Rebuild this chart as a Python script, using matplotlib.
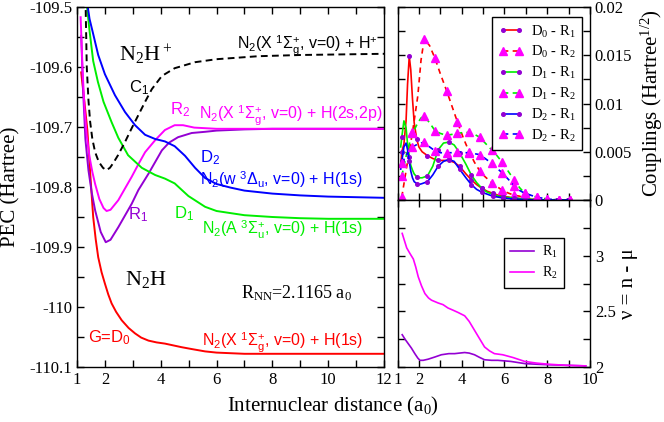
import numpy as np
import matplotlib
matplotlib.use("Agg")
import matplotlib.pyplot as plt
from matplotlib.ticker import FixedLocator, FixedFormatter

plt.rcParams['font.family'] = ['Liberation Serif', 'DejaVu Serif']
plt.rcParams['mathtext.fontset'] = 'custom'
plt.rcParams['mathtext.rm'] = 'Liberation Serif'
plt.rcParams['mathtext.it'] = 'Liberation Serif:italic'
plt.rcParams['mathtext.bf'] = 'Liberation Serif:bold'
plt.rcParams['mathtext.sf'] = 'Liberation Sans'

RED, GREEN, BLUE, MAG, PUR = '#ff0000', '#00ee00', '#0000ff', '#ff00ff', '#9400d3'

# ---------------- PEC data (left panel) ----------------
x_G = [1.15, 1.27, 1.37, 1.47, 1.58, 1.67, 1.76, 1.88, 2.0, 2.12, 2.24, 2.4, 2.6, 2.85,
       3.08, 3.3, 3.56, 3.85, 4.15, 4.45, 4.75, 5.1, 5.59, 6.0, 7.0, 8.0, 9.0, 10.0, 11.0, 12.0]
y_G = [-109.609, -109.66, -109.705, -109.775, -109.85, -109.887, -109.917, -109.942, -109.961,
       -109.979, -109.994, -110.008, -110.022, -110.035, -110.044, -110.051, -110.056, -110.059,
       -110.061, -110.064, -110.067, -110.070, -110.074, -110.076, -110.078, -110.078, -110.078,
       -110.078, -110.078, -110.078]

x_R1 = [1.15, 1.22, 1.30, 1.41, 1.53, 1.65, 1.85, 2.03, 2.2, 2.48, 2.96, 3.2, 3.56, 4.04,
        4.3, 4.62, 5.11, 5.59, 6.0, 7.0, 8.0, 9.0, 10.0, 11.0, 12.0]
y_R1 = [-109.548, -109.64, -109.72, -109.772, -109.81, -109.839, -109.875, -109.892, -109.888,
        -109.867, -109.828, -109.805, -109.778, -109.739, -109.726, -109.717, -109.71, -109.708,
        -109.706, -109.704, -109.703, -109.703, -109.703, -109.703, -109.703]

x_R2 = [1.13, 1.2, 1.27, 1.35, 1.45, 1.55, 1.65, 1.8, 1.95, 2.06, 2.2, 2.48, 2.75, 2.96, 3.2,
        3.44, 3.8, 4.15, 4.5, 4.8, 5.2, 6.0, 7.0, 8.0, 9.0, 10.0, 11.0, 12.0]
y_R2 = [-109.517, -109.605, -109.67, -109.715, -109.75, -109.775, -109.795, -109.82, -109.835,
        -109.84, -109.838, -109.822, -109.80, -109.783, -109.762, -109.742, -109.722, -109.705,
        -109.697, -109.697, -109.701, -109.703, -109.703, -109.703, -109.703, -109.703,
        -109.703, -109.703]

x_D1 = [1.3, 1.36, 1.45, 1.58, 1.75, 1.95, 2.24, 2.48, 2.83, 3.32, 3.8, 4.15, 4.5, 4.99, 5.59,
        6.0, 7.0, 8.0, 9.0, 10.0, 12.0]
y_D1 = [-109.45, -109.50, -109.54, -109.59, -109.625, -109.658, -109.692, -109.718, -109.747,
        -109.768, -109.78, -109.786, -109.794, -109.815, -109.833, -109.84, -109.847, -109.85,
        -109.852, -109.853, -109.853]

x_D2 = [1.32, 1.37, 1.45, 1.58, 1.76, 2.0, 2.36, 2.72, 3.08, 3.44, 3.8, 4.15, 4.5, 4.87, 5.23,
        5.59, 6.0, 6.5, 7.0, 8.0, 9.0, 10.0, 12.0]
y_D2 = [-109.45, -109.495, -109.52, -109.545, -109.58, -109.612, -109.647, -109.675, -109.697,
        -109.713, -109.72, -109.724, -109.732, -109.748, -109.768, -109.785, -109.795, -109.801,
        -109.806, -109.811, -109.814, -109.816, -109.818]

x_C1 = [1.27, 1.31, 1.35, 1.41, 1.47, 1.55, 1.65, 1.78, 1.93, 2.05, 2.18, 2.3, 2.47, 2.72,
        2.96, 3.2, 3.44, 3.68, 4.04, 4.5, 5.23, 6.0, 6.6, 7.5, 9.0, 10.5, 12.0]
y_C1 = [-109.46, -109.50, -109.60, -109.655, -109.691, -109.72, -109.742, -109.758, -109.768,
        -109.772, -109.768, -109.76, -109.747, -109.725, -109.702, -109.68, -109.658, -109.637,
        -109.615, -109.602, -109.592, -109.587, -109.585, -109.582, -109.58, -109.579, -109.578]

# ---------------- Couplings data (top-right panel) ----------------
xc_R1 = [1.15, 1.2, 1.3, 1.4, 1.47, 1.55, 1.62, 1.7, 1.78, 1.9, 2.0, 2.15, 2.4, 2.65, 2.9,
         3.15, 3.4, 3.65, 3.9, 4.2, 4.45, 4.7, 4.95, 5.2, 5.45, 5.7, 5.95, 6.45, 6.95, 7.45,
         7.95, 8.45, 8.95]
c_D0R1 = [0.0035, 0.0050, 0.0058, 0.0082, 0.0120, 0.0149, 0.0135, 0.0105, 0.0080, 0.0063,
          0.0055, 0.0050, 0.0046, 0.0043, 0.0041, 0.0041, 0.0041, 0.0039, 0.0035, 0.0027,
          0.0021, 0.0016, 0.0012, 0.0009, 0.0007, 0.0005, 0.0004, 0.0002, 0.0001, 0.00005,
          0.0, 0.0, 0.0]
c_D1R1 = [0.0055, 0.0065, 0.0082, 0.0075, 0.0058, 0.0045, 0.0036, 0.0031, 0.0027, 0.0024,
          0.0023, 0.0023, 0.0025, 0.0035, 0.0052, 0.0059, 0.0060, 0.0057, 0.0049, 0.0037,
          0.0026, 0.0018, 0.0012, 0.0008, 0.0006, 0.0004, 0.0003, 0.0002, 0.0001, 0.00005,
          0.0, 0.0, 0.0]
c_D2R1 = [0.0032, 0.0040, 0.0055, 0.0059, 0.0052, 0.0040, 0.0030, 0.0023, 0.0019, 0.0017,
          0.0016, 0.0017, 0.0019, 0.0026, 0.0035, 0.0040, 0.0042, 0.0040, 0.0032, 0.0023,
          0.0016, 0.0011, 0.0008, 0.0006, 0.0004, 0.0003, 0.0002, 0.0001, 0.00005, 0.0,
          0.0, 0.0, 0.0]
mk_R1 = [1.2, 1.55, 1.9, 2.4, 2.9, 3.4, 3.9, 4.45, 4.95, 5.45, 5.95, 6.45, 6.95, 7.45, 7.95,
         8.45, 8.95]

xc_R2 = [1.2, 1.45, 1.7, 1.95, 2.1, 2.25, 2.5, 2.75, 3.0, 3.3, 3.55, 3.8, 4.1, 4.35, 4.6,
         4.85, 5.1, 5.4, 5.65, 5.9, 6.2, 6.45, 6.7, 6.95, 7.5, 8.0, 8.55, 9.05]
c_D0R2 = [0.0003, 0.0037, 0.0070, 0.0108, 0.0145, 0.0167, 0.0160, 0.0147, 0.0131, 0.0113,
          0.0097, 0.0081, 0.0063, 0.0050, 0.0039, 0.0030, 0.0024, 0.0018, 0.0014, 0.0010,
          0.0007, 0.0005, 0.0004, 0.0002, 0.0001, 0.00005, 0.0, 0.0]
c_D1R2 = [0.0025, 0.0050, 0.0069, 0.0080, 0.0085, 0.0087, 0.0080, 0.0072, 0.0069, 0.0067,
          0.0068, 0.0069, 0.0070, 0.0070, 0.0068, 0.0065, 0.0059, 0.0052, 0.0046, 0.0039,
          0.0029, 0.0021, 0.0013, 0.0007, 0.0003, 0.0001, 0.0, 0.0]
c_D2R2 = [0.0038, 0.0048, 0.0055, 0.0058, 0.0059, 0.0060, 0.0055, 0.0051, 0.0049, 0.0049,
          0.0049, 0.0050, 0.0049, 0.0049, 0.0048, 0.0047, 0.0043, 0.0038, 0.0033, 0.0028,
          0.0021, 0.0015, 0.0010, 0.0007, 0.0003, 0.0001, 0.0, 0.0]
mk_R2 = [1.2, 1.7, 2.25, 2.75, 3.3, 3.8, 4.35, 4.85, 5.4, 5.9, 6.45, 6.95, 7.5, 8.0, 8.55, 9.05]

# ---------------- nu data (bottom-right panel) ----------------
xn_R1 = [1.22, 1.35, 1.5, 1.65, 1.81, 1.95, 2.05, 2.2, 2.43, 2.75, 3.05, 3.4, 3.67, 3.9, 4.14,
         4.35, 4.6, 4.85, 5.07, 5.4, 5.69, 6.0, 6.3, 6.97, 7.5, 8.07, 8.9, 9.8]
nu_R1 = [2.29, 2.25, 2.21, 2.17, 2.12, 2.08, 2.06, 2.06, 2.07, 2.09, 2.11, 2.12, 2.12, 2.125,
         2.13, 2.125, 2.11, 2.085, 2.065, 2.06, 2.06, 2.055, 2.05, 2.03, 2.025, 2.02, 2.015, 2.01]
xn_R2 = [1.22, 1.3, 1.43, 1.58, 1.74, 1.85, 1.97, 2.12, 2.28, 2.45, 2.59, 2.9, 3.13, 3.36, 3.6,
         3.83, 4.14, 4.35, 4.6, 4.85, 5.07, 5.3, 5.53, 5.92, 6.4, 6.95, 7.5, 8.07, 8.9, 9.8]
nu_R2 = [3.2, 3.15, 3.07, 3.02, 2.97, 2.90, 2.81, 2.73, 2.66, 2.62, 2.60, 2.575, 2.56, 2.53,
         2.51, 2.49, 2.46, 2.41, 2.33, 2.25, 2.18, 2.145, 2.12, 2.11, 2.085, 2.05, 2.035, 2.025,
         2.015, 2.01]

W, H = 664, 422
fig = plt.figure(figsize=(W / 100, H / 100), dpi=100)
ax1 = fig.add_axes([77 / W, 55 / H, 307 / W, 360 / H])
ax2 = fig.add_axes([397.5 / W, 222 / H, 192.5 / W, 193 / H])
ax3 = fig.add_axes([397.5 / W, 55 / H, 192.5 / W, 167 / H])

TICK = 12
for ax in (ax1, ax2, ax3):
    ax.tick_params(direction='in', length=5, width=1, top=True, right=True,
                   labelsize=TICK, which='both')
    for s in ax.spines.values():
        s.set_linewidth(1.0)

lw = 1.4
# ---- left panel
ax1.plot(x_G, y_G, color=RED, lw=lw)
ax1.plot(x_R1, y_R1, color=PUR, lw=lw)
ax1.plot(x_R2, y_R2, color=MAG, lw=lw)
ax1.plot(x_D1, y_D1, color=GREEN, lw=lw)
ax1.plot(x_D2, y_D2, color=BLUE, lw=lw)
ax1.plot(x_C1, y_C1, color='black', lw=lw, linestyle=(0, (3.5, 2.2)))
ax1.set_xlim(1, 12)
ax1.set_ylim(-110.1, -109.5)
ax1.xaxis.set_major_locator(FixedLocator(list(range(1, 13))))
ax1.xaxis.set_major_formatter(FixedFormatter(['1', '2', '', '4', '', '6', '', '8', '', '10', '', '12']))
yt = [-110.1, -110.05, -110.0, -109.95, -109.9, -109.85, -109.8, -109.75, -109.7, -109.65, -109.6, -109.55, -109.5]
ax1.yaxis.set_major_locator(FixedLocator(yt))
ax1.yaxis.set_major_formatter(FixedFormatter(['-110.1', '', '-110', '', '-109.9', '', '-109.8', '', '-109.7', '', '-109.6', '', '-109.5']))

SANS = ['Liberation Sans', 'DejaVu Sans']
FS = 11.5
ax1.text(3.47, -109.58, r'N$_2$H$^+$', fontsize=16, ha='center', va='center')
ax1.text(3.47, -109.955, r'N$_2$H', fontsize=16, ha='center', va='center')
ax1.text(8.85, -109.977, r'R$_{\mathrm{NN}}$=2.1165 a$_0$', fontsize=13, ha='center', va='center')
ax1.text(3.22, -109.635, r'C$_\mathsf{1}$', fontsize=12, family=SANS, ha='center', va='center', color='black')
ax1.text(4.69, -109.672, r'R$_\mathsf{2}$', fontsize=12, family=SANS, ha='center', va='center', color=MAG)
ax1.text(5.75, -109.752, r'D$_\mathsf{2}$', fontsize=12, family=SANS, ha='center', va='center', color=BLUE)
ax1.text(3.19, -109.847, r'R$_\mathsf{1}$', fontsize=12, family=SANS, ha='center', va='center', color=PUR)
ax1.text(4.84, -109.844, r'D$_\mathsf{1}$', fontsize=12, family=SANS, ha='center', va='center', color=GREEN)
ax1.text(2.15, -110.052, r'G=D$_\mathsf{0}$', fontsize=12, family=SANS, ha='center', va='center', color=RED)
ax1.text(11.78, -109.563, r'N$_\mathsf{2}$(X $^\mathsf{1}$Σ$_\mathsf{g}^\mathsf{+}$, v=0) + H$^\mathsf{+}$',
         fontsize=FS, family=SANS, ha='right', va='center', color='black')
ax1.text(11.95, -109.68, r'N$_\mathsf{2}$(X $^\mathsf{1}$Σ$_\mathsf{g}^\mathsf{+}$, v=0) + H(2s,2p)',
         fontsize=FS, family=SANS, ha='right', va='center', color=MAG)
ax1.text(11.25, -109.788, r'N$_\mathsf{2}$(w $^\mathsf{3}$Δ$_\mathsf{u}$, v=0) + H(1s)',
         fontsize=FS, family=SANS, ha='right', va='center', color=BLUE)
ax1.text(11.25, -109.87, r'N$_\mathsf{2}$(A $^\mathsf{3}$Σ$_\mathsf{u}^\mathsf{+}$, v=0) + H(1s)',
         fontsize=FS, family=SANS, ha='right', va='center', color=GREEN)
ax1.text(11.25, -110.058, r'N$_\mathsf{2}$(X $^\mathsf{1}$Σ$_\mathsf{g}^\mathsf{+}$, v=0) + H(1s)',
         fontsize=FS, family=SANS, ha='right', va='center', color=RED)

# ---- couplings panel
def idx(xs, marks):
    return [i for i, v in enumerate(xs) if any(abs(v - m) < 1e-9 for m in marks)]

ls_d = (0, (3.2, 2.6))
lwc = 1.2
MSC = 2.6
ax2.plot(xc_R1, c_D0R1, color=RED, lw=lwc, marker='o', ms=MSC, mfc=PUR, mec=PUR,
         markevery=idx(xc_R1, mk_R1), label=r'D$_0$ - R$_1$')
ax2.plot(xc_R2, c_D0R2, color=RED, lw=lwc, ls=ls_d, marker='^', ms=6, mfc=MAG, mec=MAG,
         markevery=idx(xc_R2, mk_R2), label=r'D$_0$ - R$_2$')
ax2.plot(xc_R1, c_D1R1, color=GREEN, lw=lwc, marker='o', ms=MSC, mfc=PUR, mec=PUR,
         markevery=idx(xc_R1, mk_R1), label=r'D$_1$ - R$_1$')
ax2.plot(xc_R2, c_D1R2, color=GREEN, lw=lwc, ls=ls_d, marker='^', ms=6, mfc=MAG, mec=MAG,
         markevery=idx(xc_R2, mk_R2), label=r'D$_1$ - R$_2$')
ax2.plot(xc_R1, c_D2R1, color=BLUE, lw=lwc, marker='o', ms=MSC, mfc=PUR, mec=PUR,
         markevery=idx(xc_R1, mk_R1), label=r'D$_2$ - R$_1$')
ax2.plot(xc_R2, c_D2R2, color=BLUE, lw=lwc, ls=ls_d, marker='^', ms=6, mfc=MAG, mec=MAG,
         markevery=idx(xc_R2, mk_R2), label=r'D$_2$ - R$_2$')
ax2.set_xlim(1, 10)
ax2.set_ylim(0, 0.02)
ax2.xaxis.set_major_locator(FixedLocator(list(range(1, 11))))
ax2.tick_params(labelbottom=False)
ax2.yaxis.set_major_locator(FixedLocator([0, 0.0025, 0.005, 0.0075, 0.01, 0.0125, 0.015, 0.0175, 0.02]))
ax2.yaxis.set_major_formatter(FixedFormatter(['0', '', '0.005', '', '0.01', '', '0.015', '', '0.02']))
ax2.tick_params(labelleft=False, labelright=True)
leg2 = ax2.legend(loc='upper right', bbox_to_anchor=(0.958, 0.948), borderaxespad=0,
                  fontsize=10.5, numpoints=2, handlelength=1.7, handletextpad=0.5,
                  labelspacing=0.32, borderpad=0.45, fancybox=False, framealpha=1,
                  edgecolor='black')
leg2.get_frame().set_linewidth(1.0)

# ---- nu panel
ax3.plot(xn_R1, nu_R1, color=PUR, lw=lwc, label=r'R$_1$')
ax3.plot(xn_R2, nu_R2, color=MAG, lw=lwc, label=r'R$_2$')
ax3.set_xlim(1, 10)
ax3.set_ylim(2, 3.5)
ax3.xaxis.set_major_locator(FixedLocator(list(range(1, 11))))
ax3.xaxis.set_major_formatter(FixedFormatter(['1', '2', '', '4', '', '6', '', '8', '', '10']))
ax3.yaxis.set_major_locator(FixedLocator([2, 2.25, 2.5, 2.75, 3, 3.25, 3.5]))
ax3.yaxis.set_major_formatter(FixedFormatter(['2', '', '2.5', '', '3', '', '']))
ax3.tick_params(labelleft=False, labelright=True)
leg3 = ax3.legend(loc='upper right', bbox_to_anchor=(0.865, 0.772), borderaxespad=0,
                  fontsize=10, handlelength=1.7, handletextpad=0.6, labelspacing=0.35,
                  borderpad=0.45, fancybox=False, framealpha=1, edgecolor='black')
leg3.get_frame().set_linewidth(1.0)

# ---- axis labels
fig.text(11 / W, 1 - 187 / H, 'PEC (Hartree)', rotation=90, fontsize=15, ha='center', va='center')
fig.text(333 / W, 1 - 406 / H, r'Internuclear distance (a$_0$)', fontsize=15, ha='center', va='center')
fig.text(652 / W, 1 - 103 / H, r'Couplings (Hartree$^{1/2}$)', rotation=90, fontsize=15, ha='center', va='center')
fig.text(628 / W, 1 - 284 / H, 'ν = n - μ', rotation=90, fontsize=15, ha='center', va='center')

fig.savefig('out.png', dpi=100)
